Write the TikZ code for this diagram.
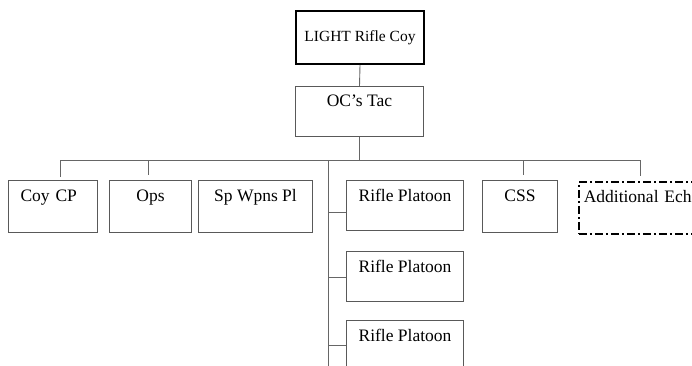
\documentclass[tikz,border=0pt]{standalone}
\usepackage{fontspec}
\setmainfont{Liberation Serif}
\usetikzlibrary{calc}

\begin{document}
\begin{tikzpicture}[x=1pt, y=-1pt, font=\rmfamily\fontsize{17.5}{20}\selectfont,
    unitbox/.style={draw=black!65, line width=1pt, anchor=north west, inner ysep=0pt,
      minimum width=#1, text height=21pt, text depth=31pt},
    link/.style={draw=black!60, line width=0.9pt}]
  \useasboundingbox (0,0) rectangle (692,366);
  \clip (0,0) rectangle (692,366);

  % top of the chart
  \node[draw=black, line width=2pt, anchor=north west, minimum width=128pt, minimum height=53pt,
        font=\rmfamily\fontsize{15.5}{18}\selectfont] (coy) at (295,10) {LIGHT Rifle Coy};
  \node[unitbox=128pt, text height=20pt, text depth=30pt] (tac) at (295,86) {OC's Tac};
  \draw[link] (coy.south) -- (tac.north);

  % first row
  \node[unitbox=89pt, align=left, text width=65pt, inner xsep=12pt] (cp) at (8,180) {Coy CP};
  \node[unitbox=82pt]  (ops) at (109,180) {Ops};
  \node[unitbox=114pt] (spw) at (198,180) {Sp Wpns Pl};
  \node[unitbox=75pt]  (css) at (482,180) {CSS};
  \node[unitbox=130pt, draw=black, line width=1.5pt, dash pattern=on 8pt off 3pt on 2pt off 3pt,
        align=left, text width=120pt, inner xsep=5pt] (ech) at (578,181) {Additional Ech};

  \coordinate (busL) at (60,160);
  \coordinate (busR) at (640,160);
  \draw[link] (tac.south) -- (tac.south |- busL);
  \draw[link] (busL) -- (busR);
  \coordinate (dcp)  at (60,177);
  \coordinate (dops) at (148,175);
  \coordinate (dcss) at (523,175);
  \coordinate (dech) at (640,176);
  \draw[link] (busL) -- (dcp);
  \draw[link] (dops |- busL) -- (dops);
  \draw[link] (dcss |- busL) -- (dcss);
  \draw[link] (busR) -- (dech);

  % rifle platoons on the spine
  \coordinate (spineT) at (328,160);
  \coordinate (spineB) at (328,370);
  \draw[link] (spineT) -- (spineB);
  \foreach \i/\top/\join in {1/180/212, 2/251/277, 3/320/345} {
    \node[unitbox=117pt, text depth=29pt] (rp\i) at (346,\top) {Rifle Platoon};
    \coordinate (j\i) at (328,\join);
    \draw[link] (j\i) -- (j\i -| rp\i.west);
  }
\end{tikzpicture}
\end{document}
